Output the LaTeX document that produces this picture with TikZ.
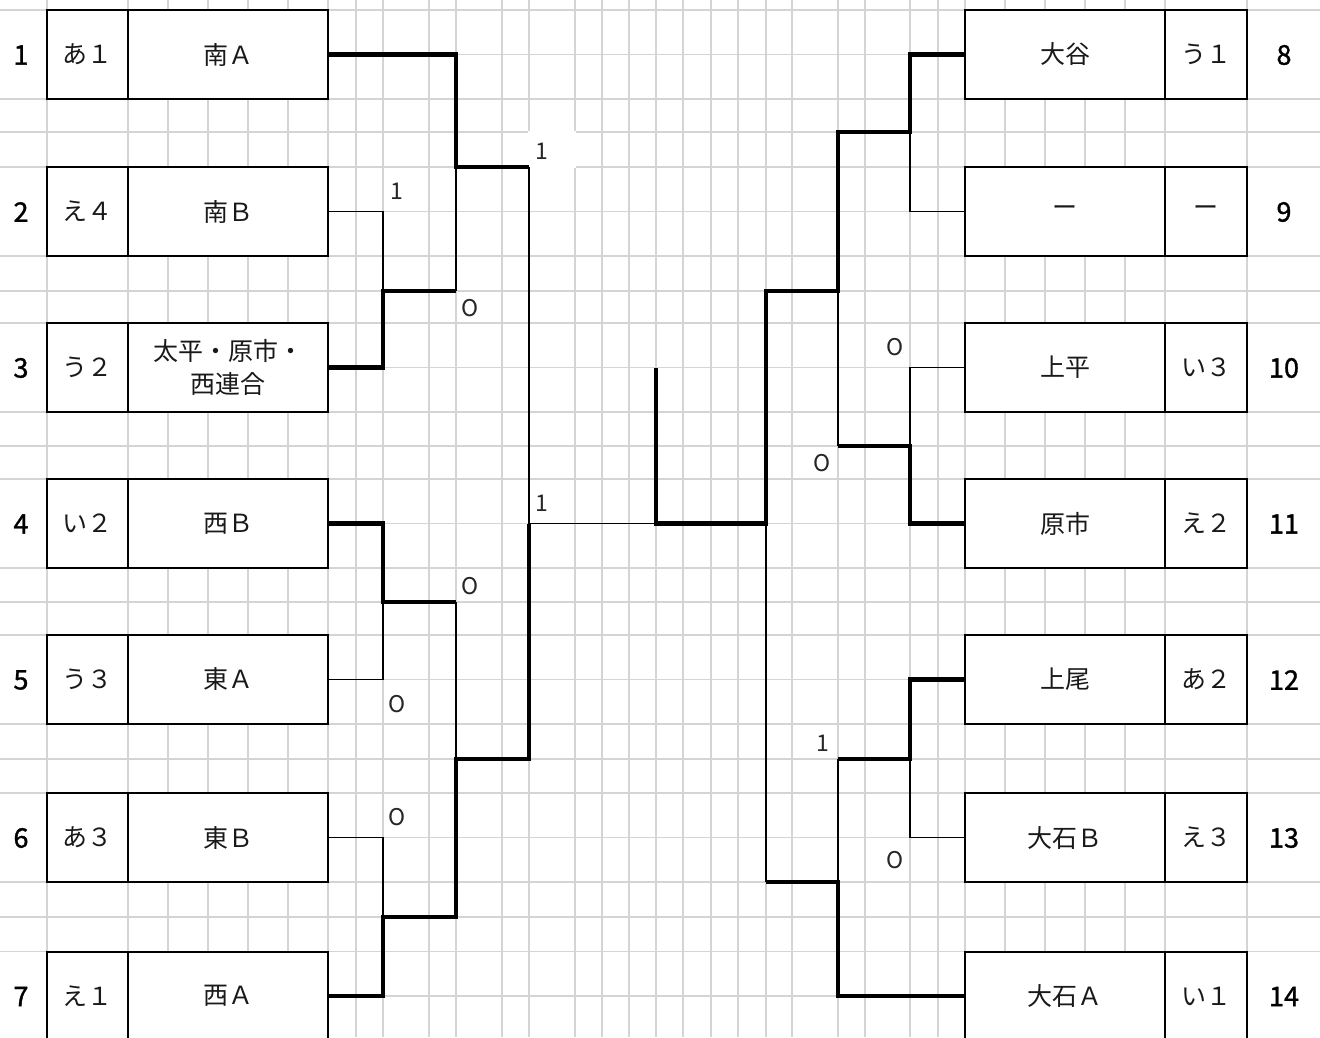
\documentclass[tikz,border=0pt]{standalone}
\usepackage{fontspec}
\setmainfont{Noto Sans CJK JP}
\newfontfamily\numfont[FakeBold=1.2]{Noto Sans CJK JP}
\definecolor{gridc}{RGB}{212,212,212}
\begin{document}
\begin{tikzpicture}[x=1pt,y=-1pt,
  gridline/.style={draw=gridc, line width=1.1pt},
  cell/.style={draw=black, line width=2pt, fill=white, inner sep=0pt, outer sep=0pt,
    minimum height=89pt, anchor=north west, align=center, text=black!90,
    font=\fontsize{25}{33}\selectfont},
  namecell/.style={cell, minimum width=200pt},
  tagcell/.style={cell, minimum width=81pt},
  rtagcell/.style={cell, minimum width=82pt},
  rownum/.style={inner sep=0pt, text=black, font=\fontsize{27}{30}\numfont},
  score/.style={inner sep=0pt, text=black!85, font=\fontsize{23}{26}\selectfont},
  thinline/.style={draw=black, line width=1.8pt},
  thickline/.style={draw=black, line width=4.6pt},
]
\useasboundingbox (0,0) rectangle (1320,1037);
\fill[white] (0,0) rectangle (1320,1037);
% ---- grid ----
\foreach \y in {10,99,132,167,256,291,323,412,446,479,568,602,635,724,759,793,882,917,951.5}
  \draw[gridline] (0,\y) -- (1320,\y);
\foreach \y in {54.5,211.5,367.5,523.5,679.5,837.5,996}
  \draw[gridline] (328,\y) -- (965,\y);
\foreach \x in {47,128,168,208,248,288,328,356,383,429,456,502,529,575,602,629,656,683,711,738,766,792,838,865,910,938,965,1005,1045,1085,1125,1165,1247}
  \draw[gridline] (\x,0) -- (\x,1037);
% white cell behind the upper score
\fill[white] (528.4,131.4) rectangle (575.6,167.6);
% ---- left boxes ----
\node[tagcell]  (L1s) at (47,10) {あ１};
\node[namecell] (L1n) at (128,10) {南Ａ};
\node[tagcell]  (L2s) at (47,167) {え４};
\node[namecell] (L2n) at (128,167) {南Ｂ};
\node[tagcell]  (L3s) at (47,323) {う２};
\node[namecell] (L3n) at (128,323) {太平・原市・\\西連合};
\node[tagcell]  (L4s) at (47,479) {い２};
\node[namecell] (L4n) at (128,479) {西Ｂ};
\node[tagcell]  (L5s) at (47,635) {う３};
\node[namecell] (L5n) at (128,635) {東Ａ};
\node[tagcell]  (L6s) at (47,793) {あ３};
\node[namecell] (L6n) at (128,793) {東Ｂ};
\node[tagcell]  (L7s) at (47,951.5) {え１};
\node[namecell] (L7n) at (128,951.5) {西Ａ};
% ---- right boxes ----
\node[namecell] (R8n)  at (965,10) {大谷};
\node[rtagcell] (R8s)  at (1165,10) {う１};
\node[namecell] (R9n)  at (965,167) {ー};
\node[rtagcell] (R9s)  at (1165,167) {ー};
\node[namecell] (R10n) at (965,323) {上平};
\node[rtagcell] (R10s) at (1165,323) {い３};
\node[namecell] (R11n) at (965,479) {原市};
\node[rtagcell] (R11s) at (1165,479) {え２};
\node[namecell] (R12n) at (965,635) {上尾};
\node[rtagcell] (R12s) at (1165,635) {あ２};
\node[namecell] (R13n) at (965,793) {大石Ｂ};
\node[rtagcell] (R13s) at (1165,793) {え３};
\node[namecell] (R14n) at (965,951.5) {大石Ａ};
\node[rtagcell] (R14s) at (1165,951.5) {い１};
% ---- row numbers ----
\node[rownum] (N1) at (21,55) {1};
\node[rownum] (N2) at (21,212) {2};
\node[rownum] (N3) at (21,368) {3};
\node[rownum] (N4) at (21,524) {4};
\node[rownum] (N5) at (21,680) {5};
\node[rownum] (N6) at (21,838) {6};
\node[rownum] (N7) at (21,996.5) {7};
\node[rownum] (N8) at (1284,55) {8};
\node[rownum] (N9) at (1284,212) {9};
\node[rownum] (N10) at (1284,368) {10};
\node[rownum] (N11) at (1284,524) {11};
\node[rownum] (N12) at (1284,680) {12};
\node[rownum] (N13) at (1284,838) {13};
\node[rownum] (N14) at (1284,996.5) {14};
% ---- junction coordinates ----
\coordinate (jA) at (383,291);   \coordinate (jA2) at (456,291);
\coordinate (jB) at (456,167);   \coordinate (jB2) at (529,167);
\coordinate (jC) at (383,602);   \coordinate (jC2) at (456,602);
\coordinate (jD) at (383,917);   \coordinate (jD2) at (456,917);
\coordinate (jE) at (456,759);   \coordinate (jE2) at (529,759);
\coordinate (jF) at (529,523.5);
\coordinate (jFin) at (656,523.5); \coordinate (cTop) at (656,368);
\coordinate (jR) at (766,523.5);
\coordinate (kA) at (910,132);   \coordinate (kA2) at (838,132);
\coordinate (kB) at (910,446);   \coordinate (kB2) at (838,446);
\coordinate (kC) at (838,291);   \coordinate (kC2) at (766,291);
\coordinate (kD) at (910,759);   \coordinate (kD2) at (838,759);
\coordinate (kE) at (838,882);   \coordinate (kE2) at (766,882);
% ---- left bracket ----
\draw[thinline]  (L2n.east) -| (jA);
\draw[thinline]  (jA2) -- (jB);
\draw[thinline]  (jB2) -- (jF);
\draw[thinline]  (L5n.east) -| (jC);
\draw[thinline]  (jC2) -- (jE);
\draw[thinline]  (L6n.east) -| (jD);
\draw[thinline]  (jF) -- (jFin);
\draw[thickline] (L3n.east) -| (jA) -- (jA2);
\draw[thickline] (L1n.east) -| (jB) -- (jB2);
\draw[thickline] (L4n.east) -| (jC) -- (jC2);
\draw[thickline] (L7n.east) -| (jD) -- (jD2) -- (jE) -- (jE2) -- (jF);
% ---- right bracket ----
\draw[thinline]  (kA) |- (R9n.west);
\draw[thinline]  (kC) -- (kB2);
\draw[thinline]  (kB) |- (R10n.west);
\draw[thinline]  (jR) -- (kE2);
\draw[thinline]  (kE) -- (kD2);
\draw[thinline]  (kD) |- (R13n.west);
\draw[thickline] (cTop) -- (jFin) -- (jR) -- (kC2) -- (kC) -- (kA2) -- (kA) |- (R8n.west);
\draw[thickline] (kB2) -- (kB) |- (R11n.west);
\draw[thickline] (kE2) -- (kE) |- (R14n.west);
\draw[thickline] (kD2) -- (kD) |- (R12n.west);
% ---- scores ----
\node[score] (s1)  at (397,191)   {1};
\node[score] (s2)  at (541.5,151) {1};
\node[score] (s3)  at (470,308)   {O};
\node[score] (s4)  at (542,503)   {1};
\node[score] (s5)  at (470,586.5) {O};
\node[score] (s6)  at (397,704)   {O};
\node[score] (s7)  at (397,817)   {O};
\node[score] (s8)  at (895,347)   {O};
\node[score] (s9)  at (822.5,463) {O};
\node[score] (s10) at (822.5,743) {1};
\node[score] (s11) at (895,860.5) {O};
\end{tikzpicture}
\end{document}
